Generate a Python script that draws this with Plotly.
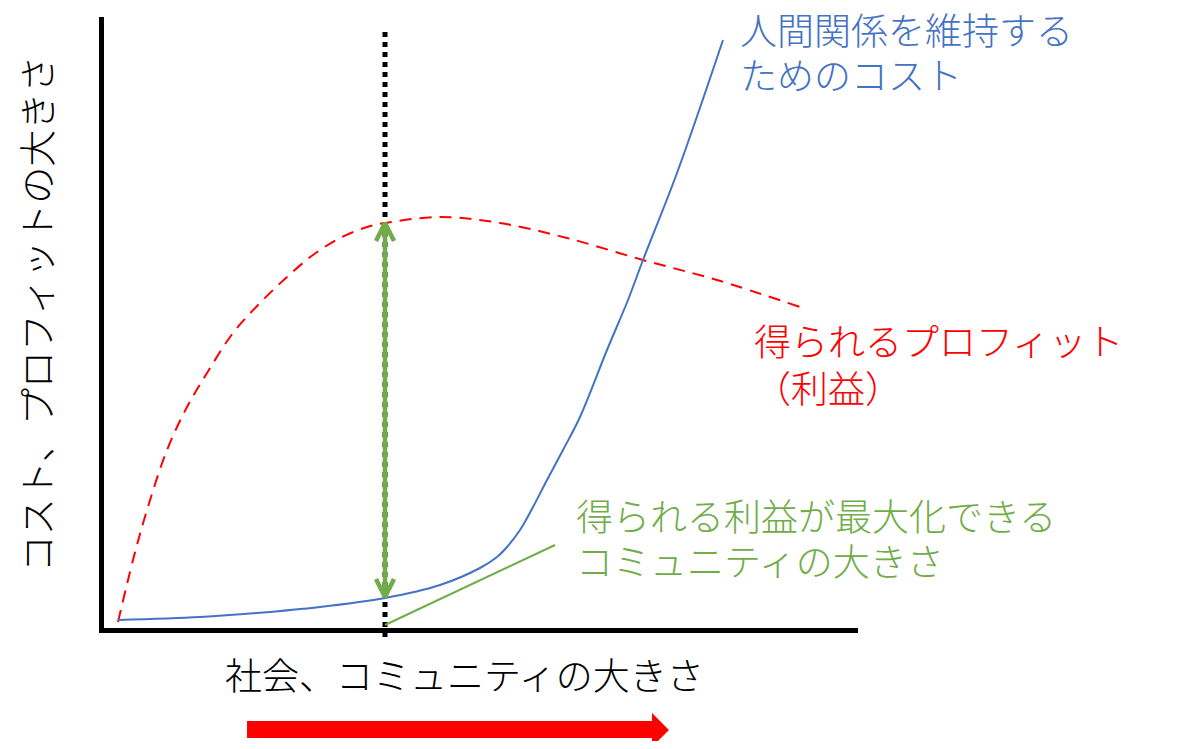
import plotly.graph_objects as go

# the page puts the figure 8px in from the top-left corner
PAGE_PAD = 8

# plot area in page pixels (axis corner at bottom-left)
LEFT, TOP, RIGHT, BOTTOM = 104, 17, 858, 628
W = RIGHT - LEFT
H = BOTTOM - TOP

FONT = "Noto Sans CJK JP"
BLUE = "#4472C4"
RED = "#FF0000"
GREEN = "#70AD47"

# community size (x) vs. magnitude (y)
cost_x = [14, 96, 153, 216, 281, 336, 376, 393, 403, 416, 429, 443, 459, 476, 503, 524, 539, 573, 619]
cost_y = [8, 11, 15, 21, 30, 43, 60, 71, 81, 98, 121, 148, 178, 211, 278, 328, 368, 455, 588]

profit_x = [14, 29, 43, 63, 83, 103, 129, 156, 183, 209, 236, 263, 281, 336, 396, 463, 539, 613, 696]
profit_y = [6, 68, 118, 178, 221, 255, 295, 325, 351, 373, 390, 401, 405, 411, 405, 390, 368, 348, 321]

# size where profit minus cost is largest
best_x = 281
best_cost = 31
best_profit = 405

# leader line from the marked size to its label
leader_x = [281, 451]
leader_y = [3, 83]


def paper(px, py):
    return (px - LEFT) / W, (BOTTOM - py) / H


fig = go.Figure()

fig.add_trace(go.Scatter(
    x=profit_x, y=profit_y, mode='lines', line_shape='spline',
    line=dict(color=RED, width=2, dash='12px,8px'), hoverinfo='skip'
))
fig.add_trace(go.Scatter(
    x=cost_x, y=cost_y, mode='lines', line_shape='spline',
    line=dict(color=BLUE, width=2), hoverinfo='skip'
))
fig.add_trace(go.Scatter(
    x=leader_x, y=leader_y, mode='lines',
    line=dict(color=GREEN, width=2), hoverinfo='skip'
))

# double headed arrow between the two curves
head_w, head_l = 9, 18
fig.add_trace(go.Scatter(
    x=[best_x, best_x], y=[best_cost, best_profit], mode='lines',
    line=dict(color=GREEN, width=4.5), hoverinfo='skip'
))
fig.add_trace(go.Scatter(
    x=[best_x - head_w, best_x, best_x + head_w],
    y=[best_profit - head_l, best_profit, best_profit - head_l],
    mode='lines', line=dict(color=GREEN, width=4.5), hoverinfo='skip'
))
fig.add_trace(go.Scatter(
    x=[best_x - head_w, best_x, best_x + head_w],
    y=[best_cost + head_l, best_cost, best_cost + head_l],
    mode='lines', line=dict(color=GREEN, width=4.5), hoverinfo='skip'
))

# dotted marker line at the best size
fig.add_shape(type='line', xref='x', yref='paper',
              x0=best_x, x1=best_x, y0=paper(0, 637)[1], y1=paper(0, 32)[1],
              line=dict(color='black', width=5, dash='5px,5px'), layer='below')

# big red arrow under the x axis
arrow_pts = [(247, 721), (652, 721), (652, 713), (669, 730), (652, 747), (652, 738), (247, 738)]
path = 'M ' + ' L '.join('%.4f,%.4f' % paper(px, py) for px, py in arrow_pts) + ' Z'
fig.add_shape(type='path', xref='paper', yref='paper', path=path,
              fillcolor=RED, line=dict(width=0))


def label(text, px, py, color, xanchor='left', angle=0, box=40):
    x, y = paper(px, py)
    size = dict(width=box) if angle else dict(height=box)
    fig.add_annotation(x=x, y=y, xref='paper', yref='paper', text=text,
                       showarrow=False, xanchor=xanchor, yanchor='middle',
                       textangle=angle, valign='middle', **size,
                       font=dict(family=FONT, size=37, color=color, weight=300))


label('人間関係を維持する', 738, 29, BLUE)
label('ためのコスト', 738, 74, BLUE)
label('得られるプロフィット', 752, 340, RED)
label('（利益）', 752, 387, RED)
label('得られる利益が最大化できる', 574, 515, GREEN)
label('コミュニティの大きさ', 574, 560, GREEN)
label('社会、コミュニティの大きさ', 464, 674, 'black', xanchor='center')
label('コスト、プロフィットの大きさ', 36, 314, 'black', xanchor='center', angle=-90, box=560)

fig.update_layout(
    width=1180 - 2 * PAGE_PAD, height=749 - 2 * PAGE_PAD,
    margin=dict(l=LEFT - PAGE_PAD, r=1180 - PAGE_PAD - RIGHT,
                t=TOP - PAGE_PAD, b=749 - PAGE_PAD - BOTTOM),
    paper_bgcolor='white', plot_bgcolor='white',
    showlegend=False,
    xaxis=dict(range=[0, W], showline=True, linewidth=5, linecolor='black',
               showgrid=False, zeroline=False, showticklabels=False, ticks=''),
    yaxis=dict(range=[0, H], showline=True, linewidth=5, linecolor='black',
               showgrid=False, zeroline=False, showticklabels=False, ticks=''),
)

fig.write_html("out.html")
